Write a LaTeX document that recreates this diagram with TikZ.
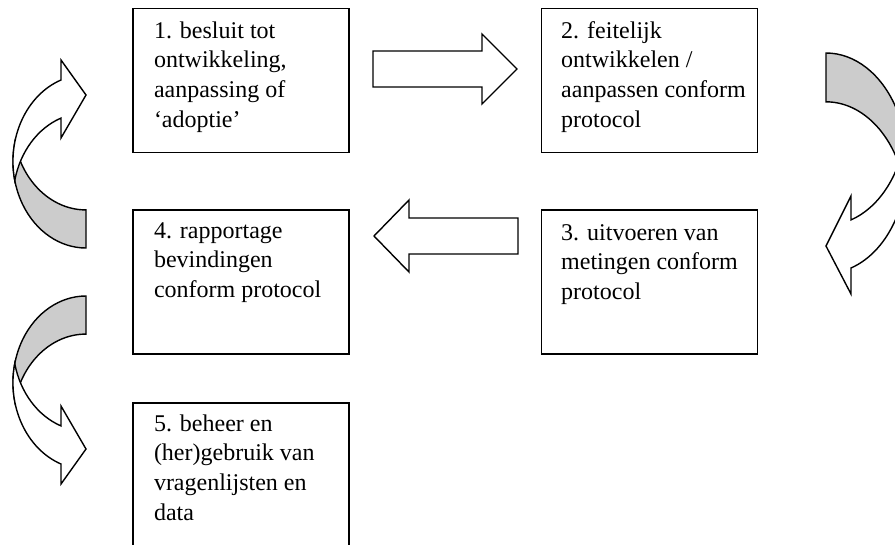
\documentclass[tikz,border=0pt]{standalone}
\usepackage{fontspec}
\setmainfont{Liberation Serif}
\definecolor{shade}{RGB}{204,204,204}
\begin{document}
\begin{tikzpicture}[x=1pt,y=-1pt,
  box/.style={draw, line width=1.4pt, minimum width=216pt, minimum height=144pt, inner sep=0pt},
  boxtext/.style={anchor=north west, inner sep=0pt, align=left, font=\fontsize{24}{29.7}\selectfont},
  blockarrow/.style={draw, line width=1.4pt, fill=white, line join=miter},
  backband/.style={blockarrow, fill=shade},
  ell/.style={x radius=73, y radius=86.6},
  ellr/.style={x radius=81, y radius=110.2}]
\useasboundingbox (0,0) rectangle (895,544);
\clip (0,0) rectangle (895,544);

% boxes
\node[box] (b1) at (241,80.3) {};
\node[box] (b2) at (649.7,80.3) {};
\node[box] (b4) at (241,282) {};
\node[box] (b3) at (649.7,282) {};
\node[box, minimum height=200pt] (b5) at (241,503) {};

\node[boxtext] (t1) at ([xshift=21.5pt,yshift=-9.5pt]b1.north west) {\strut 1. besluit tot\\ontwikkeling,\\aanpassing of\\‘adoptie’};
\node[boxtext] (t2) at ([xshift=20pt,yshift=-9.5pt]b2.north west) {\strut 2. feitelijk\\ontwikkelen /\\aanpassen conform\\protocol};
\node[boxtext] (t3) at ([xshift=20pt,yshift=-10pt]b3.north west) {\strut 3. uitvoeren van\\metingen conform\\protocol};
\node[boxtext] (t4) at ([xshift=21.5pt,yshift=-8pt]b4.north west) {\strut 4. rapportage\\bevindingen\\conform protocol};
\node[boxtext] (t5) at ([xshift=21.5pt,yshift=-8pt]b5.north west) {\strut 5. beheer en\\(her)gebruik van\\vragenlijsten en\\data};

% straight block arrows
\draw[blockarrow] (373,51) -- (482,51) -- (482,34) -- (517,69) -- (482,104) -- (482,87) -- (373,87) -- cycle;
\draw[blockarrow] (518,218) -- (409,218) -- (409,200) -- (374,236) -- (409,272) -- (409,254) -- (518,254) -- cycle;

% top-left curved arrow
\draw[backband] (86,248) arc[start angle=90,end angle=192.7,ell] arc[start angle=167.3,end angle=90,ell] -- cycle;
\draw[blockarrow] (61,80) arc[start angle=250,end angle=167.3,ell] arc[start angle=192.7,end angle=250,ell] -- (61,138) -- (86,95) -- (61,60) -- cycle;

% bottom-left curved arrow
\draw[backband] (86,296) arc[start angle=-90,end angle=-192.7,ell] arc[start angle=-167.3,end angle=-90,ell] -- cycle;
\draw[blockarrow] (61,464) arc[start angle=-250,end angle=-167.3,ell] arc[start angle=-192.7,end angle=-250,ell] -- (61,406) -- (86,449) -- (61,484) -- cycle;

% right curved arrow
\draw[backband] (826,53) arc[start angle=-90,end angle=12.8,ellr] arc[start angle=-12.8,end angle=-90,ellr] -- cycle;
\draw[blockarrow] (851,268) arc[start angle=72,end angle=-12.6,ellr] arc[start angle=12.6,end angle=72,ellr] -- (851,196) -- (826,246) -- (851,294) -- cycle;
\end{tikzpicture}
\end{document}
